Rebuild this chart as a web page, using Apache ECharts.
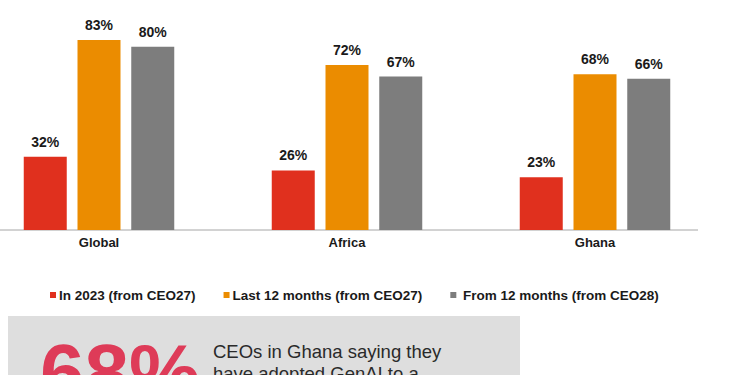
<!DOCTYPE html>
<html>
<head>
<meta charset="utf-8">
<script src="https://cdn.jsdelivr.net/npm/echarts@6/dist/echarts.min.js"></script>
<style>
html,body{margin:0;padding:0;background:#fff;}
#chart{width:750px;height:375px;}
</style>
</head>
<body>
<div id="chart"></div>
<script>
const categories = ['Global', 'Africa', 'Ghana'];
const seriesNames = ['In 2023 (from CEO27)', 'Last 12 months (from CEO27)', 'From 12 months (from CEO28)'];
const in2023 = [32, 26, 23];
const last12 = [83, 72, 68];
const from12 = [80, 67, 66];
const colors = ['#e0301e', '#eb8c00', '#7d7d7d'];
const calloutValue = '68%';
const calloutLines = ['CEOs in Ghana saying they', 'have adopted GenAI to a'];

const FONT = '"Liberation Sans", Arial, Helvetica, sans-serif';
const chart = echarts.init(document.getElementById('chart'), null, {renderer: 'svg'});

function barSeries(name, data, color) {
  return {
    name: name,
    type: 'bar',
    data: data,
    barWidth: 43,
    barGap: '25%',
    itemStyle: {color: color},
    label: {
      show: true,
      position: 'top',
      distance: 8,
      formatter: '{c}%',
      color: '#1a1a1a',
      fontFamily: FONT,
      fontWeight: 'bold',
      fontSize: 14
    },
    emphasis: {disabled: true},
    animation: false
  };
}

chart.setOption({
  animation: false,
  grid: {left: -25, width: 744, top: 1, height: 229, containLabel: false, outerBoundsMode: 'none'},
  xAxis: {
    type: 'category',
    data: categories,
    axisLine: {show: false},
    axisTick: {show: false},
    axisLabel: {
      margin: 6,
      color: '#1a1a1a',
      fontFamily: FONT,
      fontWeight: 'bold',
      fontSize: 13
    }
  },
  yAxis: {type: 'value', min: 0, max: 100, show: false},
  legend: {
    left: 45,
    top: 283,
    itemWidth: 6,
    itemHeight: 6,
    itemGap: 28,
    icon: 'rect',
    selectedMode: false,
    textStyle: {
      color: '#1a1a1a',
      fontFamily: FONT,
      fontWeight: 'bold',
      fontSize: 13.5,
      padding: [0, 0, 0, -2]
    },
    formatter: function (n) { return n === seriesNames[2] ? ' ' + n : n; },
    data: seriesNames
  },
  series: [
    barSeries(seriesNames[0], in2023, colors[0]),
    barSeries(seriesNames[1], last12, colors[1]),
    barSeries(seriesNames[2], from12, colors[2])
  ],
  graphic: [
    {type: 'line', shape: {x1: 0, y1: 230, x2: 698, y2: 230}, style: {stroke: '#a6a6a6', lineWidth: 1}, silent: true},
    {type: 'rect', shape: {x: 8, y: 316, width: 512, height: 70}, style: {fill: '#dedede'}, silent: true},
    {type: 'text', left: 40, top: 332, style: {text: calloutValue, fill: '#de3b58', font: 'bold 80px ' + FONT}, silent: true},
    {type: 'text', left: 213, top: 340, style: {text: calloutLines.join('\n'), fill: '#2a2a2a', font: '18.5px ' + FONT, lineHeight: 22.5}, silent: true}
  ]
});
</script>
</body>
</html>
